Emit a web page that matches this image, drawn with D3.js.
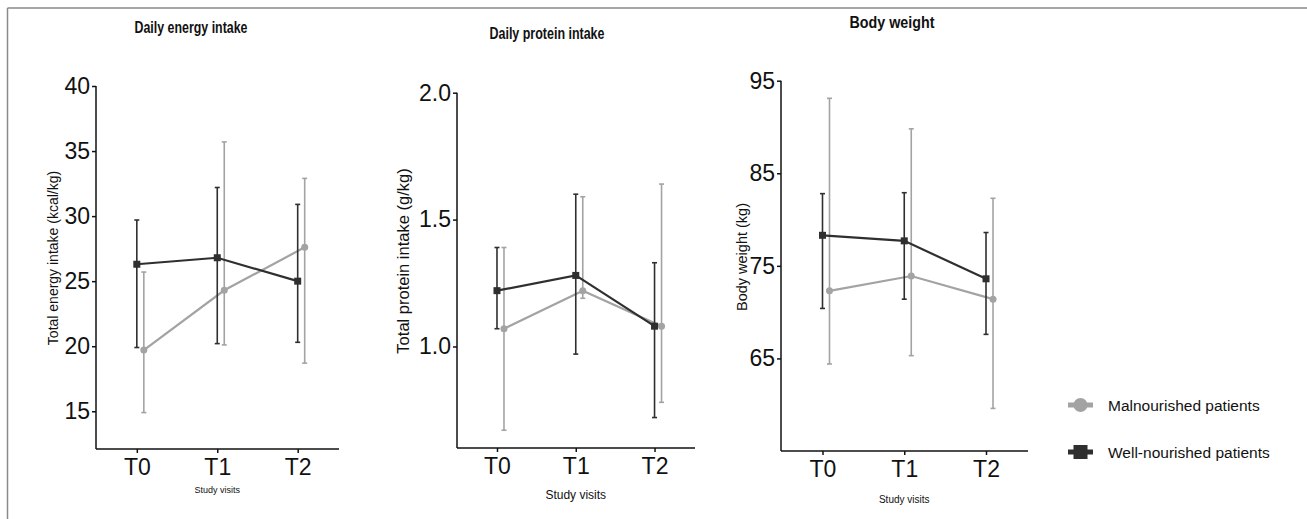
<!DOCTYPE html>
<html lang="en">
<head>
    <meta charset="utf-8">
    <script src="https://cdn.jsdelivr.net/npm/d3@7"></script>
    <style type="text/css">
        body { margin: 0; background: #fff; }
        text { font-family: "Liberation Sans", Arial, sans-serif; fill: #111; }
    </style>
</head>
<body>
<script>
    var visits = ['T0', 'T1', 'T2'];
    var groups = ['Malnourished patients', 'Well-nourished patients'];

    // energy intake (kcal/kg)
    var energyMal = [19.7, 24.3, 27.6];
    var energyMalLo = [14.9, 20.1, 18.7];
    var energyMalHi = [25.7, 35.7, 32.9];
    var energyWell = [26.3, 26.8, 25.0];
    var energyWellLo = [19.9, 20.2, 20.3];
    var energyWellHi = [29.7, 32.2, 30.9];
    var energyTicks = [15, 20, 25, 30, 35, 40];

    // protein intake (g/kg)
    var proteinMal = [1.07, 1.22, 1.08];
    var proteinMalLo = [0.67, 1.19, 0.78];
    var proteinMalHi = [1.39, 1.59, 1.64];
    var proteinWell = [1.22, 1.28, 1.08];
    var proteinWellLo = [1.07, 0.97, 0.72];
    var proteinWellHi = [1.39, 1.60, 1.33];
    var proteinTicks = [1.0, 1.5, 2.0];

    // body weight (kg)
    var weightMal = [72.3, 73.9, 71.4];
    var weightMalLo = [64.4, 65.3, 59.6];
    var weightMalHi = [93.1, 89.8, 82.3];
    var weightWell = [78.3, 77.7, 73.6];
    var weightWellLo = [70.4, 71.4, 67.6];
    var weightWellHi = [82.8, 82.9, 78.6];
    var weightTicks = [65, 75, 85, 95];

    var dark = '#2f2f2f', grey = '#a3a3a3';

    var svg = d3.select('body').append('svg')
            .attr('width', 1307)
            .attr('height', 519);

    // frame lines
    svg.append('line').attr('x1', 7.5).attr('x2', 1307).attr('y1', 8).attr('y2', 8)
            .style('stroke', '#8a8a8a').style('stroke-width', 1.5);
    svg.append('line').attr('x1', 7.5).attr('x2', 7.5).attr('y1', 8).attr('y2', 519)
            .style('stroke', '#8a8a8a').style('stroke-width', 1.5);

    var panels = [
        {title: 'Daily energy intake', tx: 191, ty: 33, tw: 113,
         left: 96, right: 339, top: 86, bottom: 449, domain: [12.1, 40], ticks: energyTicks, fmt: d3.format('d'),
         tickSize: 23, ylabel: 'Total energy intake (kcal/kg)', ylx: 58, yly: 258, yls: 14,
         xlSize: 9, xly: 493,
         mal: [energyMal, energyMalLo, energyMalHi], well: [energyWell, energyWellLo, energyWellHi]},
        {title: 'Daily protein intake', tx: 547, ty: 39, tw: 115,
         left: 457, right: 695, top: 92.7, bottom: 448, domain: [0.6, 2.0], ticks: proteinTicks, fmt: d3.format('.1f'),
         tickSize: 23, ylabel: 'Total protein intake (g/kg)', ylx: 409, yly: 261, yls: 16.5,
         xlSize: 12, xly: 499,
         mal: [proteinMal, proteinMalLo, proteinMalHi], well: [proteinWell, proteinWellLo, proteinWellHi]},
        {title: 'Body weight', tx: 892, ty: 28, tw: 85,
         left: 781, right: 1028, top: 80.7, bottom: 451, domain: [55, 95], ticks: weightTicks, fmt: d3.format('d'),
         tickSize: 23, ylabel: 'Body weight (kg)', ylx: 747, yly: 257, yls: 14.5,
         xlSize: 10, xly: 503,
         mal: [weightMal, weightMalLo, weightMalHi], well: [weightWell, weightWellLo, weightWellHi]}
    ];

    panels.forEach(function (p) {
        var g = svg.append('g');
        var span = p.right - p.left;
        var x = d3.scalePoint().domain(visits)
                .range([p.left + span * 0.168, p.left + span * 0.83]);
        var y = d3.scaleLinear().domain(p.domain).range([p.bottom, p.top]);

        g.append('text')
                .attr('x', p.tx).attr('y', p.ty)
                .attr('text-anchor', 'middle')
                .attr('textLength', p.tw).attr('lengthAdjust', 'spacingAndGlyphs')
                .style('font-weight', 'bold').style('font-size', '16.5px')
                .text(p.title);

        var yAxis = g.append('g')
                .attr('transform', 'translate(' + p.left + ',0)')
                .call(d3.axisLeft(y).tickValues(p.ticks).tickFormat(p.fmt).tickSize(4).tickPadding(2));
        var xAxis = g.append('g')
                .attr('transform', 'translate(0,' + p.bottom + ')')
                .call(d3.axisBottom(x).tickSize(4).tickPadding(6));
        xAxis.select('.domain').attr('d', 'M' + p.left + ',0H' + p.right);
        yAxis.select('.domain').attr('d', 'M0,' + p.top + 'V' + p.bottom);
        [xAxis, yAxis].forEach(function (a) {
            a.selectAll('.domain, line').style('stroke', '#111').style('stroke-width', 1.5);
            a.selectAll('text').style('font-size', p.tickSize + 'px')
                    .style('font-family', '"Liberation Sans", Arial, sans-serif').style('fill', '#111');
        });

        g.append('text')
                .attr('transform', 'translate(' + p.ylx + ',' + p.yly + ') rotate(-90)')
                .attr('text-anchor', 'middle')
                .style('font-size', p.yls + 'px')
                .text(p.ylabel);
        g.append('text')
                .attr('x', (x('T1'))).attr('y', p.xly)
                .attr('text-anchor', 'middle')
                .style('font-size', p.xlSize + 'px')
                .text('Study visits');

        var series = [
            {vals: p.mal, color: grey, dx: 7, shape: 'circle'},
            {vals: p.well, color: dark, dx: 0, shape: 'square'}
        ];
        series.forEach(function (s) {
            var pts = visits.map(function (v, i) {
                return {v: v, m: s.vals[0][i], lo: s.vals[1][i], hi: s.vals[2][i]};
            });
            var px = function (d) { return x(d.v) + s.dx; };
            // error bars
            var eb = g.append('g').selectAll('g').data(pts).enter().append('g')
                    .style('stroke', s.color).style('stroke-width', 1.6);
            eb.append('line').attr('x1', px).attr('x2', px)
                    .attr('y1', function (d) { return y(d.lo); })
                    .attr('y2', function (d) { return y(d.hi); });
            eb.append('line').attr('x1', function (d) { return px(d) - 2.5; })
                    .attr('x2', function (d) { return px(d) + 2.5; })
                    .attr('y1', function (d) { return y(d.lo); })
                    .attr('y2', function (d) { return y(d.lo); });
            eb.append('line').attr('x1', function (d) { return px(d) - 2.5; })
                    .attr('x2', function (d) { return px(d) + 2.5; })
                    .attr('y1', function (d) { return y(d.hi); })
                    .attr('y2', function (d) { return y(d.hi); });
            // line
            g.append('path').datum(pts)
                    .attr('d', d3.line().x(px).y(function (d) { return y(d.m); }))
                    .style('fill', 'none').style('stroke', s.color).style('stroke-width', 2.2);
            // markers
            if (s.shape === 'circle') {
                g.append('g').selectAll('circle').data(pts).enter().append('circle')
                        .attr('cx', px).attr('cy', function (d) { return y(d.m); })
                        .attr('r', 3.5).style('fill', s.color);
            } else {
                g.append('g').selectAll('rect').data(pts).enter().append('rect')
                        .attr('x', function (d) { return px(d) - 3.5; })
                        .attr('y', function (d) { return y(d.m) - 3.5; })
                        .attr('width', 7).attr('height', 7).style('fill', s.color);
            }
        });
    });

    // legend
    var legend = svg.append('g');
    var legY = [405, 452];
    groups.forEach(function (name, i) {
        var col = i === 0 ? grey : dark;
        var row = legend.append('g').attr('transform', 'translate(0,' + legY[i] + ')');
        row.append('line').attr('x1', 1068).attr('x2', 1093).attr('y1', 0).attr('y2', 0)
                .style('stroke', col).style('stroke-width', 5);
        if (i === 0) {
            row.append('circle').attr('cx', 1080.5).attr('cy', 0).attr('r', 7).style('fill', col);
        } else {
            row.append('rect').attr('x', 1073.5).attr('y', -7).attr('width', 14).attr('height', 14).style('fill', col);
        }
        row.append('text').attr('x', 1108).attr('y', 5.5)
                .style('font-size', '15.5px')
                .text(name);
    });
</script>
</body>
</html>
